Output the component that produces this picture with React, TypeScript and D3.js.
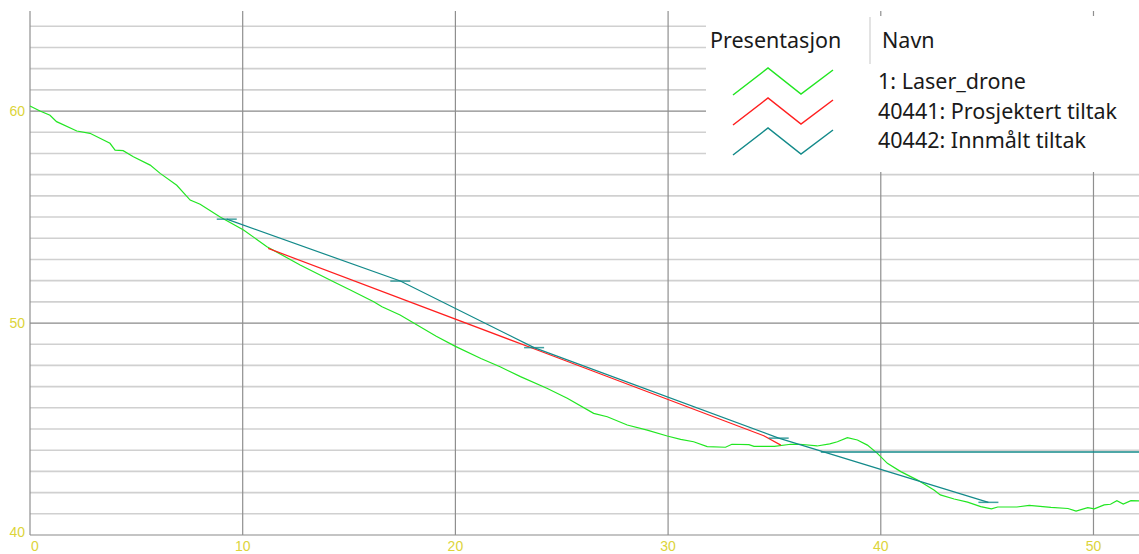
import React from "react";
import * as d3 from "d3";

const W = 1139;
const H = 554;

// Data
const laserX = [0, 0.47, 0.94, 1.25, 2.2, 2.82, 3.76, 4.0, 4.38, 4.86, 5.65, 6.12, 6.9, 7.53, 8.0, 8.94, 10.04, 11.14, 12.7, 14.27, 15.06, 16.16, 16.55, 17.4, 19.1, 20.0, 21.2, 22.1, 23.06, 24.3, 25.26, 26.5, 27.14, 28.08, 29.02, 29.96, 30.59, 31.2, 31.84, 32.7, 33.0, 33.8, 34.04, 35.0, 35.76, 36.2, 37.0, 37.6, 37.96, 38.43, 38.9, 39.37, 39.84, 40.31, 40.94, 41.73, 42.5, 42.8, 43.45, 44.08, 44.7, 45.2, 45.5, 46.4, 46.98, 48.0, 48.8, 49.18, 49.73, 50.04, 50.5, 50.8, 51.1, 51.4, 51.76, 52.3];
const laserY = [60.24, 60.0, 59.8, 59.5, 59.06, 58.95, 58.48, 58.16, 58.13, 57.84, 57.45, 57.06, 56.5, 55.8, 55.6, 55.0, 54.39, 53.6, 52.74, 51.95, 51.56, 51.0, 50.77, 50.38, 49.38, 48.9, 48.33, 47.94, 47.47, 46.92, 46.45, 45.74, 45.58, 45.19, 44.95, 44.67, 44.51, 44.4, 44.17, 44.14, 44.28, 44.26, 44.18, 44.18, 44.28, 44.28, 44.2, 44.3, 44.4, 44.59, 44.48, 44.24, 43.85, 43.38, 42.99, 42.59, 42.12, 41.89, 41.7, 41.55, 41.34, 41.23, 41.32, 41.32, 41.4, 41.3, 41.25, 41.13, 41.29, 41.23, 41.42, 41.45, 41.62, 41.46, 41.62, 41.6];

const prosjX = [11.2, 23.6, 34.5, 35.3];
const prosjY = [53.52, 48.82, 44.68, 44.24];

const innmX = [9.25, 17.41, 23.7, 35.2, 45.06];
const innmY = [54.9, 51.98, 48.84, 44.57, 41.54];

const innmFlatX = [37.18, 53];
const innmFlatY = [43.92, 43.92];

const xTicks = [0, 10, 20, 30, 40, 50];
const yMajor = [40, 50, 60];
const yMinor = d3.range(41, 65).filter((v) => v % 10 !== 0);

const legendHeaders = ["Presentasjon", "Navn"];
const seriesNames = ["1: Laser_drone", "40441: Prosjektert tiltak", "40442: Innmålt tiltak"];
const seriesColors = ["#22e622", "#ff1f1f", "#138a8a"];

const plotLeft = 30;
const plotTop = 11;
const plotBottom = 535;
const x = d3.scaleLinear().domain([0, 52.14]).range([plotLeft, W]);
const y = d3.scaleLinear().domain([40, 64.72]).range([plotBottom, plotTop]);

const line = d3
  .line<[number, number]>()
  .x((d) => x(d[0]))
  .y((d) => y(d[1]));

const zip = (a: number[], b: number[]) => a.map((v, i) => [v, b[i]] as [number, number]);

export default function App() {
  const labelColor = "#dcd43a";
  const labelFont = "'Liberation Sans Narrow', 'Liberation Sans', Arial, sans-serif";
  const legFont = "'Noto Sans', 'Open Sans', sans-serif";
  const legX = 706;
  const legY = 16;
  const zig = [
    [733, 0],
    [768, -27],
    [801, -1],
    [833, -25],
  ];
  const rowBase = [95, 125, 155];
  return (
    <svg
      width={W}
      height={H}
      style={{ position: "fixed", left: 0, top: 0, background: "#fff" }}
    >
      <rect x={0} y={0} width={W} height={H} fill="#fff" />
      {/* minor horizontal grid */}
      {yMinor.map((v) => (
        <line key={"mn" + v} x1={plotLeft} x2={W} y1={y(v)} y2={y(v)} stroke="#d0d0d0" strokeWidth={1.6} />
      ))}
      {yMajor.map((v) => (
        <line key={"mj" + v} x1={plotLeft} x2={W} y1={y(v)} y2={y(v)} stroke="#8a8a8a" strokeWidth={1.2} />
      ))}
      {xTicks.map((v) => (
        <line key={"vx" + v} x1={x(v)} x2={x(v)} y1={plotTop} y2={plotBottom} stroke="#8f8f8f" strokeWidth={1.2} />
      ))}
      {/* axis labels */}
      {xTicks.map((v) => (
        <text
          key={"xl" + v}
          x={v === 0 ? x(v) + 1 : x(v)}
          y={551}
          textAnchor={v === 0 ? "start" : "middle"}
          fontFamily={labelFont}
          fontSize={14}
          fill={labelColor}
        >
          {v}
        </text>
      ))}
      {yMajor.map((v) => (
        <text
          key={"yl" + v}
          x={25}
          y={v === 40 ? y(v) + 2 : y(v) + 5}
          textAnchor="end"
          fontFamily={labelFont}
          fontSize={14}
          fill={labelColor}
        >
          {v}
        </text>
      ))}
      {/* series */}
      <path d={line(zip(laserX, laserY)) || ""} fill="none" stroke={seriesColors[0]} strokeWidth={1.2} />
      <path d={line(zip(prosjX, prosjY)) || ""} fill="none" stroke={seriesColors[1]} strokeWidth={1.2} />
      <path d={line(zip(innmX, innmY)) || ""} fill="none" stroke={seriesColors[2]} strokeWidth={1.2} />
      <path d={line(zip(innmFlatX, innmFlatY)) || ""} fill="none" stroke={seriesColors[2]} strokeWidth={1.5} />
      {innmX.map((v, i) => (
        <line
          key={"tk" + i}
          x1={x(v) - 10}
          x2={x(v) + 10}
          y1={y(innmY[i])}
          y2={y(innmY[i])}
          stroke={seriesColors[2]}
          strokeWidth={1.5}
          opacity={0.8}
        />
      ))}
      {/* legend */}
      <rect x={legX} y={legY} width={W - legX} height={156} fill="#fff" />
      <line x1={870} x2={870} y1={17} y2={64} stroke="#e3e3e3" strokeWidth={2} />
      <text x={710} y={48} fontFamily={legFont} fontSize={21.5} fill="#1a1a1a">
        {legendHeaders[0]}
      </text>
      <text x={882} y={48} fontFamily={legFont} fontSize={21.5} fill="#1a1a1a">
        {legendHeaders[1]}
      </text>
      {seriesNames.map((n, i) => (
        <g key={"lg" + i}>
          <polyline
            points={zig.map((p) => `${p[0]},${rowBase[i] + p[1]}`).join(" ")}
            fill="none"
            stroke={seriesColors[i]}
            strokeWidth={1.5}
          />
          <text x={878} y={89 + i * 29.5} fontFamily={legFont} fontSize={21.5} fill="#1a1a1a">
            {n}
          </text>
        </g>
      ))}
    </svg>
  );
}
